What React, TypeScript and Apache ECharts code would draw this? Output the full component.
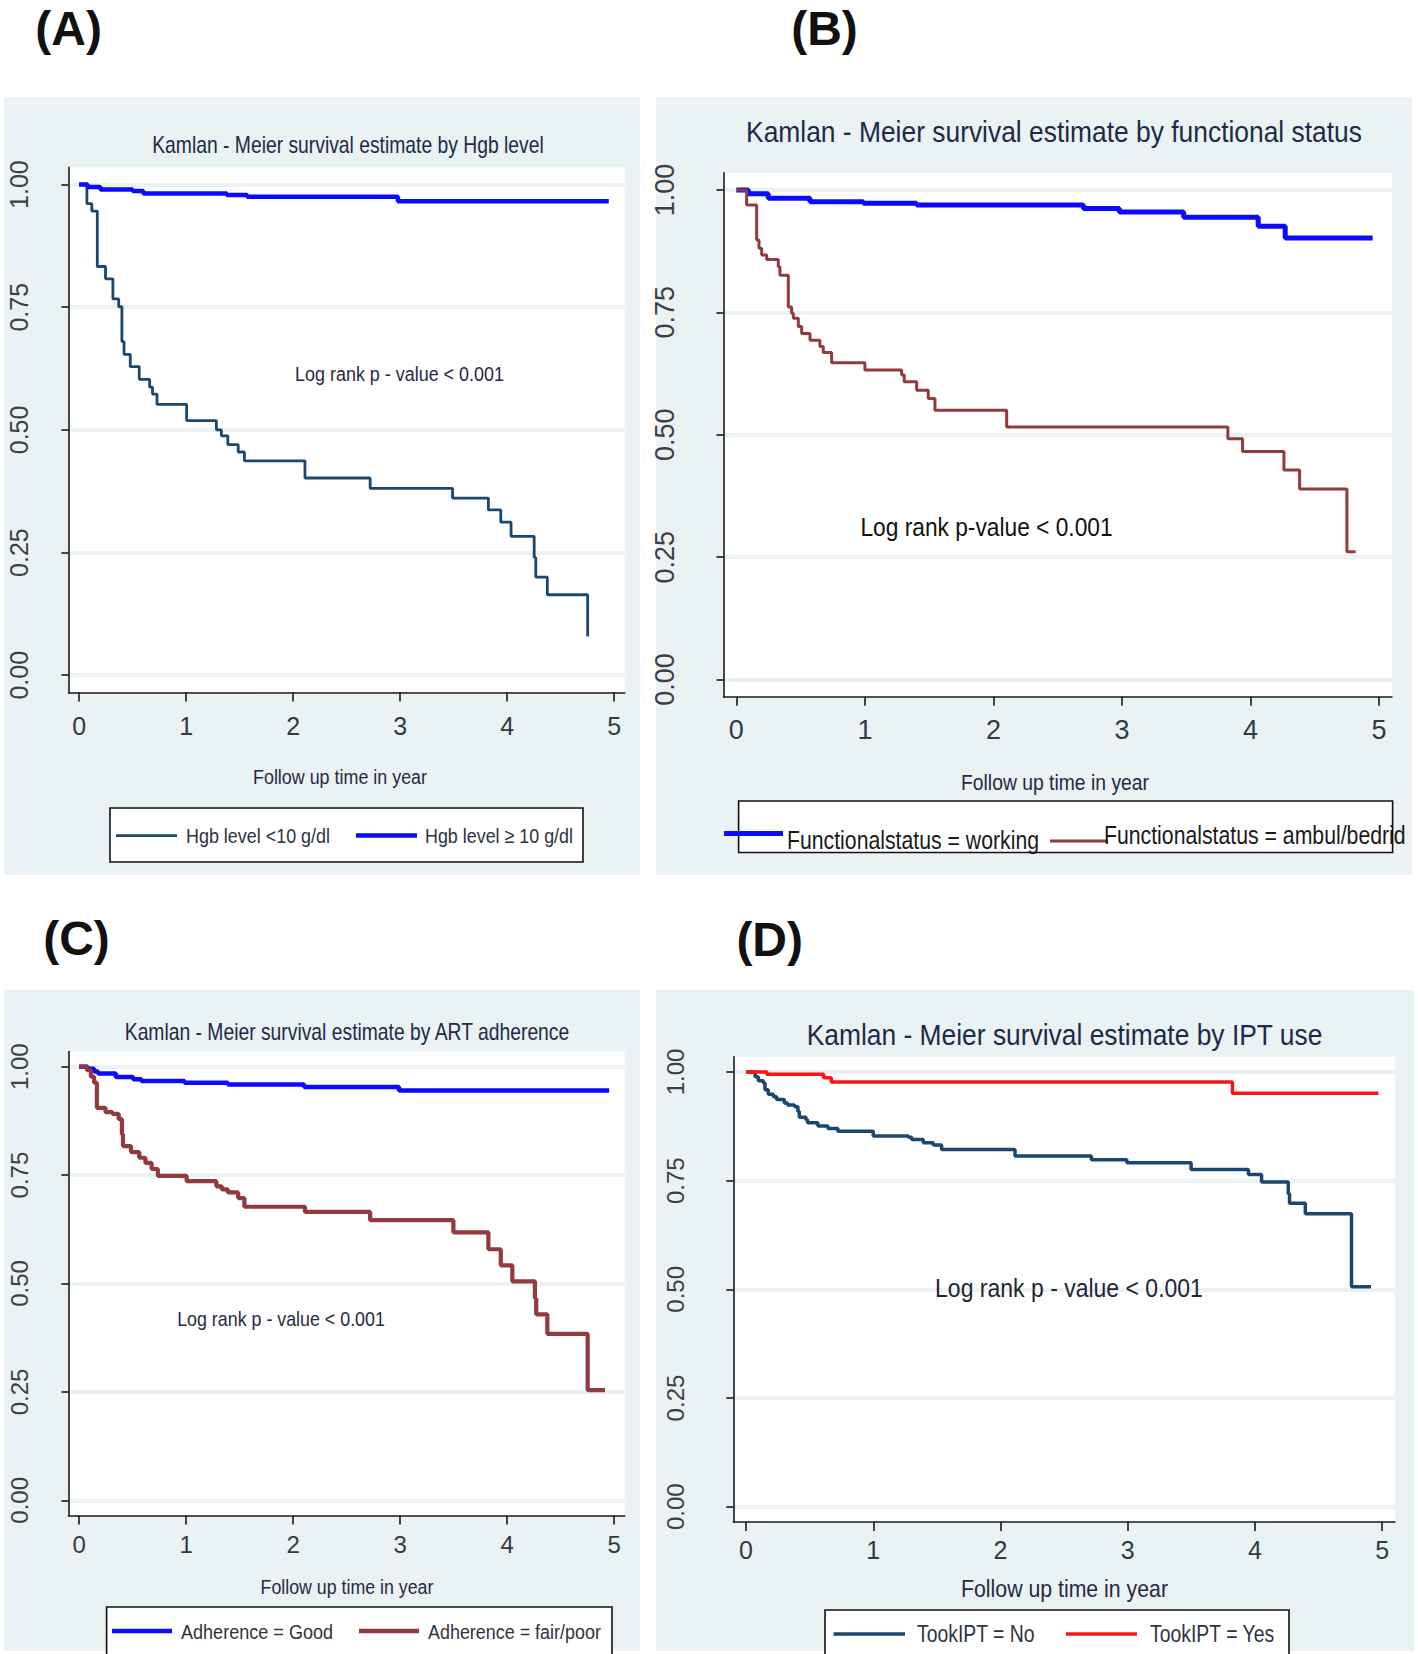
import React, { useEffect, useRef } from "react";
import * as echarts from "echarts";

const W = 1418;
const H = 1654;

// axis ticks and ranges
const xTicks = [0, 1, 2, 3, 4, 5];
const yTicks = [0, 0.25, 0.5, 0.75, 1];
const xRange = [-0.1, 5.1];
const yRange = [-0.035, 1.035];

// Panel A: Hgb level
const hgbLowTime = [0, 0.073, 0.119, 0.17, 0.247, 0.316, 0.37, 0.4, 0.42, 0.478, 0.562, 0.659, 0.686, 0.728, 1.005, 1.283, 1.33, 1.39, 1.487, 1.545, 2.111, 2.72, 3.49, 3.825, 3.941, 4.037, 4.253, 4.268, 4.376, 4.753];
const hgbLowSurv = [1, 0.961, 0.946, 0.833, 0.808, 0.767, 0.751, 0.68, 0.654, 0.629, 0.603, 0.587, 0.573, 0.552, 0.519, 0.5, 0.488, 0.47, 0.455, 0.437, 0.402, 0.381, 0.361, 0.337, 0.312, 0.283, 0.24, 0.2, 0.164, 0.079];
const hgbHighTime = [0, 0.08, 0.2, 0.5, 0.6, 1.38, 1.57, 2.98, 4.95];
const hgbHighSurv = [1, 0.995, 0.99, 0.987, 0.982, 0.979, 0.975, 0.966, 0.966];

// Panel B: functional status
const fsWorkTime = [0, 0.093, 0.248, 0.573, 0.988, 1.403, 2.7, 2.98, 3.48, 4.06, 4.27, 4.95];
const fsWorkSurv = [1, 0.992, 0.983, 0.976, 0.973, 0.969, 0.962, 0.955, 0.944, 0.926, 0.902, 0.902];
const fsBedTime = [0, 0.08, 0.158, 0.176, 0.197, 0.236, 0.326, 0.339, 0.404, 0.43, 0.443, 0.482, 0.508, 0.573, 0.65, 0.676, 0.741, 1.0, 1.286, 1.306, 1.403, 1.493, 1.545, 2.103, 3.824, 3.938, 4.26, 4.382, 4.75, 4.818];
const fsBedSurv = [1, 0.969, 0.898, 0.881, 0.867, 0.858, 0.843, 0.826, 0.761, 0.748, 0.738, 0.721, 0.707, 0.693, 0.68, 0.668, 0.647, 0.632, 0.622, 0.608, 0.591, 0.574, 0.55, 0.516, 0.492, 0.466, 0.428, 0.389, 0.261, 0.261];

// Panel C: ART adherence
const artGoodTime = [0, 0.08, 0.14, 0.177, 0.343, 0.505, 0.582, 0.986, 1.39, 2.103, 2.99, 4.954];
const artGoodSurv = [1, 0.995, 0.989, 0.984, 0.976, 0.971, 0.967, 0.963, 0.959, 0.953, 0.945, 0.945];
const artPoorTime = [0, 0.073, 0.11, 0.14, 0.166, 0.247, 0.312, 0.37, 0.4, 0.41, 0.485, 0.562, 0.62, 0.678, 0.736, 1.005, 1.283, 1.333, 1.39, 1.487, 1.545, 2.111, 2.72, 3.498, 3.825, 3.941, 4.049, 4.26, 4.272, 4.376, 4.753, 4.915];
const artPoorSurv = [1, 0.992, 0.977, 0.963, 0.905, 0.895, 0.891, 0.879, 0.844, 0.817, 0.803, 0.79, 0.778, 0.764, 0.748, 0.736, 0.724, 0.717, 0.71, 0.697, 0.677, 0.665, 0.646, 0.618, 0.579, 0.542, 0.505, 0.466, 0.429, 0.384, 0.254, 0.254];

// Panel D: IPT use
const iptNoTime = [0, 0.071, 0.097, 0.136, 0.149, 0.175, 0.215, 0.241, 0.301, 0.327, 0.382, 0.408, 0.419, 0.471, 0.484, 0.565, 0.644, 0.722, 1.0, 1.276, 1.302, 1.393, 1.472, 1.537, 2.114, 2.714, 2.993, 3.498, 3.949, 4.052, 4.262, 4.272, 4.396, 4.759, 4.912];
const iptNoSurv = [1, 0.989, 0.98, 0.975, 0.959, 0.949, 0.943, 0.937, 0.929, 0.924, 0.92, 0.909, 0.896, 0.89, 0.883, 0.876, 0.87, 0.864, 0.853, 0.85, 0.845, 0.837, 0.832, 0.822, 0.807, 0.798, 0.791, 0.776, 0.764, 0.747, 0.72, 0.698, 0.674, 0.506, 0.506];
const iptYesTime = [0, 0.164, 0.61, 0.67, 3.823, 4.97];
const iptYesSurv = [1, 0.995, 0.987, 0.977, 0.951, 0.951];

const titles = [
  "Kamlan - Meier survival estimate by Hgb level",
  "Kamlan - Meier survival estimate by functional status",
  "Kamlan - Meier survival estimate by ART adherence",
  "Kamlan - Meier survival estimate by IPT use",
];
const panelLetters = ["(A)", "(B)", "(C)", "(D)"];
const xAxisTitle = "Follow up time in year";

const NAVY = "#1a476f";
const BLUE = "#0a0aff";
const MAROON = "#923a3e";
const RED = "#fb1414";
const BG = "#eaf2f3";
const FONT = "'Liberation Sans', Arial, sans-serif";
const NARROW = "'Liberation Sans Narrow', 'Arial Narrow', 'Liberation Sans', sans-serif";

const pairs = (t: number[], s: number[]) => t.map((v, i) => [v, s[i]]);

type SeriesDef = { name: string; t: number[]; s: number[]; color: string; width: number };
type PanelDef = {
  grid: { left: number; top: number; width: number; height: number };
  yFont: number;
  yMargin: number;
  xFont: number;
  xMargin: number;
  series: SeriesDef[];
};

const panels: PanelDef[] = [
  {
    grid: { left: 68.4, top: 167.4, width: 556.4, height: 525 },
    yFont: 25, yMargin: 37, xFont: 25, xMargin: 21,
    series: [
      { name: "Hgb level <10 g/dl", t: hgbLowTime, s: hgbLowSurv, color: NAVY, width: 2.8 },
      { name: "Hgb level ≥ 10 g/dl", t: hgbHighTime, s: hgbHighSurv, color: BLUE, width: 4.5 },
    ],
  },
  {
    grid: { left: 723.5, top: 172.8, width: 668.4, height: 523.9 },
    yFont: 27, yMargin: 45, xFont: 27, xMargin: 20,
    series: [
      { name: "Functionalstatus = working", t: fsWorkTime, s: fsWorkSurv, color: BLUE, width: 5 },
      { name: "Functionalstatus = ambul/bedrid", t: fsBedTime, s: fsBedSurv, color: MAROON, width: 3 },
    ],
  },
  {
    grid: { left: 68.4, top: 1051.5, width: 556.4, height: 464 },
    yFont: 24, yMargin: 37, xFont: 24, xMargin: 17,
    series: [
      { name: "Adherence = Good", t: artGoodTime, s: artGoodSurv, color: BLUE, width: 4.5 },
      { name: "Adherence = fair/poor", t: artPoorTime, s: artPoorSurv, color: MAROON, width: 4.2 },
    ],
  },
  {
    grid: { left: 733.3, top: 1056.8, width: 661.6, height: 465.1 },
    yFont: 24, yMargin: 46, xFont: 25, xMargin: 16,
    series: [
      { name: "TookIPT = No", t: iptNoTime, s: iptNoSurv, color: NAVY, width: 3.5 },
      { name: "TookIPT = Yes", t: iptYesTime, s: iptYesSurv, color: RED, width: 3.5 },
    ],
  },
];

function txt(text: string, x: number, y: number, size: number, sx: number, fill: string, align = "center", weight = "normal") {
  return {
    type: "text",
    x,
    y,
    scaleX: sx,
    z: 20,
    silent: true,
    style: {
      text,
      fontSize: size,
      fontFamily: FONT,
      fontWeight: weight,
      fill,
      align,
      verticalAlign: "middle",
      textAlign: align,
      textVerticalAlign: "middle",
    },
  };
}

function seg(x1: number, x2: number, y: number, color: string, w: number) {
  return { type: "line", z: 20, silent: true, shape: { x1, y1: y, x2, y2: y }, style: { stroke: color, lineWidth: w } };
}

function box(x: number, y: number, w: number, h: number) {
  return { type: "rect", z: 15, silent: true, shape: { x, y, width: w, height: h }, style: { fill: "#ffffff", stroke: "#111111", lineWidth: 1.6 } };
}

function buildOption() {
  const grids: any[] = [];
  const xAxes: any[] = [];
  const yAxes: any[] = [];
  const series: any[] = [];
  const graphics: any[] = [];

  // panel backgrounds
  const bgs = [
    [4, 97, 636, 778],
    [656, 97, 756, 778],
    [4, 990, 636, 661],
    [656, 990, 758, 661],
  ];
  bgs.forEach(([x, y, w, h]) =>
    graphics.push({ type: "rect", z: -20, silent: true, shape: { x, y, width: w, height: h }, style: { fill: BG } })
  );

  panels.forEach((p, i) => {
    grids.push({ ...p.grid, show: false });
    graphics.push({
      type: "rect",
      z: -10,
      silent: true,
      shape: { x: p.grid.left, y: p.grid.top, width: p.grid.width, height: p.grid.height },
      style: { fill: "#ffffff" },
    });
    xAxes.push({
      type: "value",
      gridIndex: i,
      min: xRange[0],
      max: xRange[1],
      position: "bottom",
      axisLine: { show: true, onZero: false, lineStyle: { color: "#1a1a1a", width: 1.6 } },
      axisTick: { show: true, customValues: xTicks, length: 9, lineStyle: { color: "#1a1a1a", width: 1.6 } },
      axisLabel: {
        customValues: xTicks,
        fontSize: p.xFont,
        fontFamily: NARROW,
        color: "#333a46",
        margin: p.xMargin,
        formatter: (v: number) => String(v),
      },
      splitLine: { show: false },
    });
    yAxes.push({
      type: "value",
      gridIndex: i,
      min: yRange[0],
      max: yRange[1],
      position: "left",
      axisLine: { show: true, onZero: false, lineStyle: { color: "#1a1a1a", width: 1.6 } },
      axisTick: { show: true, customValues: yTicks, length: 7, lineStyle: { color: "#1a1a1a", width: 1.6 } },
      axisLabel: {
        customValues: yTicks,
        rotate: 90,
        fontSize: p.yFont,
        fontFamily: FONT,
        color: "#3a3f48",
        margin: p.yMargin,
        formatter: (v: number) => v.toFixed(2),
      },
      splitLine: { show: true, lineStyle: { color: BG, width: 4 } },
    });
    p.series.forEach((s) => {
      series.push({
        type: "line",
        name: s.name,
        xAxisIndex: i,
        yAxisIndex: i,
        data: pairs(s.t, s.s),
        step: "end",
        showSymbol: false,
        symbol: "none",
        silent: true,
        lineStyle: { color: s.color, width: s.width },
        itemStyle: { color: s.color },
      });
    });
  });

  // panel letters
  graphics.push(txt(panelLetters[0], 68.6, 28.5, 48, 1, "#111111", "center", "bold"));
  graphics.push(txt(panelLetters[1], 824.5, 28, 48, 1, "#111111", "center", "bold"));
  graphics.push(txt(panelLetters[2], 76.5, 938, 48, 1, "#111111", "center", "bold"));
  graphics.push(txt(panelLetters[3], 769.7, 939, 48, 1, "#111111", "center", "bold"));

  // titles
  const TCOL = "#1e2a4a";
  graphics.push(txt(titles[0], 348, 144.5, 23, 0.84, TCOL));
  graphics.push(txt(titles[1], 1054, 132, 29, 0.91, TCOL));
  graphics.push(txt(titles[2], 347, 1032, 23, 0.84, TCOL));
  graphics.push(txt(titles[3], 1064.5, 1035, 29, 0.91, TCOL));

  // log rank annotations
  graphics.push(txt("Log rank p - value < 0.001", 399.5, 373.5, 21, 0.855, "#262b40"));
  graphics.push(txt("Log rank p-value < 0.001", 986.5, 527.5, 25, 0.91, "#111111"));
  graphics.push(txt("Log rank p - value < 0.001", 281, 1318, 21, 0.85, "#262b40"));
  graphics.push(txt("Log rank p - value < 0.001", 1069, 1288, 25, 0.92, "#1e2536"));

  // x axis titles
  const ACOL = "#262a45";
  graphics.push(txt(xAxisTitle, 340, 776.5, 21, 0.852, ACOL));
  graphics.push(txt(xAxisTitle, 1055, 782, 22, 0.879, ACOL));
  graphics.push(txt(xAxisTitle, 347, 1586, 21, 0.847, ACOL));
  graphics.push(txt(xAxisTitle, 1064.5, 1589, 24, 0.887, ACOL));

  const LCOL = "#2f3340";
  // legend A
  graphics.push(box(110, 808, 473, 54));
  graphics.push(seg(116, 177, 835.6, NAVY, 2.8));
  graphics.push(txt(panels[0].series[0].name, 186, 835.6, 21, 0.854, LCOL, "left"));
  graphics.push(seg(356, 417, 835.6, BLUE, 4.5));
  graphics.push(txt(panels[0].series[1].name, 425, 835.6, 21, 0.852, LCOL, "left"));

  // legend B
  graphics.push(box(738.6, 801, 654, 51.5));
  graphics.push(seg(724, 783, 833.5, BLUE, 5));
  graphics.push(txt(panels[1].series[0].name, 787, 840, 25, 0.85, "#1a1a1a", "left"));
  graphics.push(seg(1050, 1108, 841, MAROON, 3));
  graphics.push(txt(panels[1].series[1].name, 1104, 835, 25, 0.85, "#1a1a1a", "left"));

  // legend C
  graphics.push(box(106.6, 1607, 505.4, 60));
  graphics.push(seg(112, 172, 1631, BLUE, 4.5));
  graphics.push(txt(panels[2].series[0].name, 181, 1631, 21, 0.86, LCOL, "left"));
  graphics.push(seg(359, 419, 1631, MAROON, 4.5));
  graphics.push(txt(panels[2].series[1].name, 428, 1631, 21, 0.854, LCOL, "left"));

  // legend D
  graphics.push(box(825, 1610, 464, 60));
  graphics.push(seg(833.5, 905, 1634, NAVY, 3.5));
  graphics.push(txt(panels[3].series[0].name, 917, 1634, 23, 0.842, LCOL, "left"));
  graphics.push(seg(1066, 1137, 1634, RED, 3.5));
  graphics.push(txt(panels[3].series[1].name, 1150, 1634, 23, 0.844, LCOL, "left"));

  return {
    animation: false,
    backgroundColor: "#ffffff",
    grid: grids,
    xAxis: xAxes,
    yAxis: yAxes,
    series,
    graphic: { elements: graphics },
  };
}

export default function App() {
  const ref = useRef<HTMLDivElement>(null);
  useEffect(() => {
    document.body.style.margin = "0";
    if (!ref.current) return;
    const chart = echarts.init(ref.current, undefined, { renderer: "svg", width: W, height: H });
    chart.setOption(buildOption() as any);
    return () => {
      chart.dispose();
    };
  }, []);
  return <div ref={ref} style={{ position: "absolute", left: 0, top: 0, width: W, height: H }} />;
}
